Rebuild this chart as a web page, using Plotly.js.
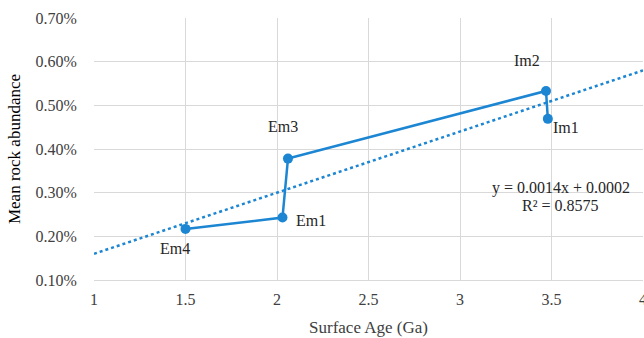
<!DOCTYPE html>
<html>
<head>
<meta charset="utf-8">
<script src="https://cdn.plot.ly/plotly-3.0.1.min.js"></script>
<style>html,body{margin:0;padding:0;background:#fff;}#chart{width:644px;height:338px;}</style>
</head>
<body>
<div id="chart"></div>
<script>
// Surface units, their surface age (Ga) and mean rock abundance (fraction)
const units = ['Em4', 'Em1', 'Em3', 'Im2', 'Im1'];
const surfaceAge = [1.50, 2.03, 2.06, 3.47, 3.48];
const rockAbundance = [0.00217, 0.00243, 0.00378, 0.00533, 0.00469];

// Linear trend line: y = 0.0014x + 0.0002
const trendSlope = 0.0014;
const trendIntercept = 0.0002;
const trendX = [1, 4];
const trendY = trendX.map(x => trendSlope * x + trendIntercept);

const xTicks = [1, 1.5, 2, 2.5, 3, 3.5, 4];
const yTicks = [0.001, 0.002, 0.003, 0.004, 0.005, 0.006, 0.007];

const blue = '#1c86d3';
const font = 'Liberation Serif';

// label offsets (pixels, y up) for each point name
const labelShift = {
  Em4: [-11, -20], Em1: [29, -3], Em3: [-5, 32], Im2: [-19, 30], Im1: [18, -9]
};

const annotations = units.map((u, i) => ({
  x: surfaceAge[i], y: rockAbundance[i], xref: 'x', yref: 'y',
  text: u, showarrow: false,
  xshift: labelShift[u][0], yshift: labelShift[u][1],
  font: {family: font, size: 16, color: '#262626'}
}));
// trend line equation and fit quality
annotations.push({
  x: 3.55, y: 0.00311, xref: 'x', yref: 'y', showarrow: false,
  text: 'y = 0.0014x + 0.0002',
  font: {family: font, size: 16, color: '#262626'}
});
annotations.push({
  x: 3.55, y: 0.00270, xref: 'x', yref: 'y', showarrow: false,
  text: 'R² = 0.8575',
  font: {family: font, size: 16, color: '#262626'}
});

const traces = [
  {
    x: trendX, y: trendY, type: 'scatter', mode: 'lines',
    line: {color: blue, width: 2.5, dash: 'dot'},
    hoverinfo: 'skip'
  },
  {
    x: surfaceAge, y: rockAbundance, type: 'scatter', mode: 'lines+markers',
    line: {color: blue, width: 2.5},
    marker: {color: blue, size: 10}
  }
];

const layout = {
  width: 644, height: 338,
  margin: {l: 94, r: 1, t: 18, b: 58},
  paper_bgcolor: '#fff', plot_bgcolor: '#fff',
  showlegend: false,
  font: {family: font, size: 16, color: '#404040'},
  xaxis: {
    range: [1, 4], tickvals: xTicks, ticktext: xTicks.map(String),
    showgrid: true, gridcolor: '#d9d9d9', gridwidth: 1,
    zeroline: false, showline: true, linecolor: '#d9d9d9', linewidth: 1,
    ticks: 'outside', ticklen: 5, tickcolor: 'rgba(0,0,0,0)',
    ticklabeloverflow: 'allow',
    tickfont: {family: font, size: 16, color: '#404040'},
    title: {text: 'Surface Age (Ga)', standoff: 13, font: {family: font, size: 17, color: '#404040'}}
  },
  yaxis: {
    range: [0.001, 0.007], tickvals: yTicks, tickformat: '.2%',
    showgrid: true, gridcolor: '#d9d9d9', gridwidth: 1,
    zeroline: false, showline: false,
    ticks: 'outside', ticklen: 13, tickcolor: 'rgba(0,0,0,0)',
    tickfont: {family: font, size: 16, color: '#404040'},
    title: {text: 'Mean rock abundance', standoff: 10, font: {family: font, size: 17, color: '#000'}}
  },
  annotations: annotations
};

Plotly.newPlot('chart', traces, layout, {displayModeBar: false, staticPlot: true});
</script>
</body>
</html>
